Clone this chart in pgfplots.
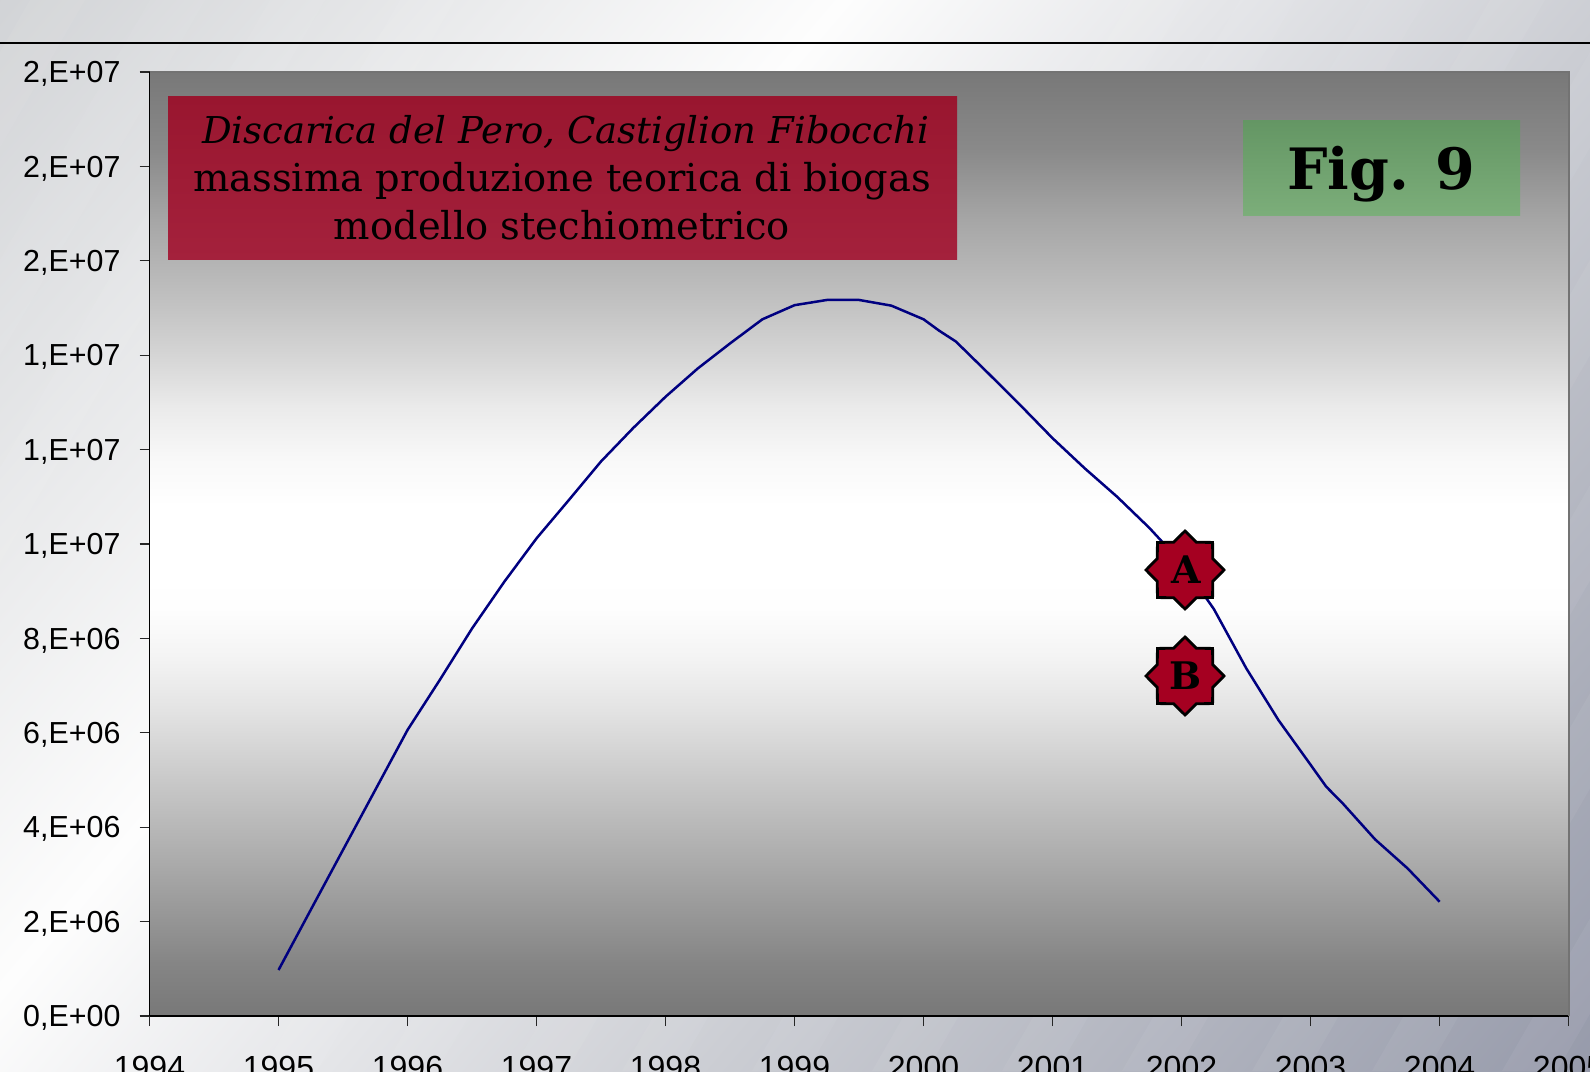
\documentclass[border=0pt]{standalone}
\usepackage{pgfplots}
\pgfplotsset{compat=1.18}
\usepackage{fontspec}
\setmainfont{Liberation Sans}
\newfontfamily\serifbox[ItalicFont={DejaVu Serif Italic}]{DejaVu Serif}
\usetikzlibrary{shapes.geometric}
\definecolor{navyline}{HTML}{000080}
\definecolor{starred}{HTML}{A50021}
\definecolor{bga}{HTML}{D1D3D6}
\definecolor{bgb}{HTML}{FDFDFD}
\definecolor{bgc}{HTML}{CBCDD3}
\definecolor{bgd}{HTML}{969AAA}
\definecolor{p00}{HTML}{787878}
\definecolor{p01}{HTML}{858585}
\definecolor{p02}{HTML}{989898}
\definecolor{p03}{HTML}{ABABAB}
\definecolor{p04}{HTML}{BDBDBD}
\definecolor{p05}{HTML}{D0D0D0}
\definecolor{p06}{HTML}{E3E3E3}
\definecolor{p07}{HTML}{F3F3F3}
\definecolor{p08}{HTML}{FEFEFE}
\definecolor{p09}{HTML}{FFFFFF}
\definecolor{p10}{HTML}{F8F8F8}
\definecolor{p11}{HTML}{EAEAEA}
\definecolor{p12}{HTML}{D5D5D5}
\definecolor{p13}{HTML}{C2C2C2}
\definecolor{p14}{HTML}{B5B5B5}
\definecolor{p15}{HTML}{A5A5A5}
\definecolor{p16}{HTML}{8A8A8A}
\definecolor{ra}{HTML}{A4213C}
\definecolor{rb}{HTML}{99162F}
\definecolor{ga}{HTML}{7CAE7A}
\definecolor{gb}{HTML}{649664}
\pgfdeclarehorizontalshading{bgdiag}{930bp}{
 color(0bp)=(bga);
 color(324bp)=(bgb);
 color(620bp)=(bgc);
 color(956bp)=(bgd)}
\pgfdeclareverticalshading{panel}{100bp}{
 color(0bp)=(p00);
 color(25bp)=(p00);
 color(27.8bp)=(p01);
 color(30.5bp)=(p02);
 color(33.2bp)=(p03);
 color(35.8bp)=(p04);
 color(38.5bp)=(p05);
 color(41.2bp)=(p06);
 color(43.9bp)=(p07);
 color(46.6bp)=(p08);
 color(48.7bp)=(p09);
 color(52bp)=(p09);
 color(54.6bp)=(p10);
 color(57.3bp)=(p11);
 color(60bp)=(p12);
 color(62.7bp)=(p13);
 color(64.8bp)=(p14);
 color(67.3bp)=(p15);
 color(70.8bp)=(p16);
 color(75bp)=(p00);
 color(100bp)=(p00)}
\pgfdeclareverticalshading{redbox}{100bp}{
 color(0bp)=(ra);
 color(25bp)=(ra);
 color(75bp)=(rb);
 color(100bp)=(rb)}
\pgfdeclareverticalshading{greenbox}{100bp}{
 color(0bp)=(ga);
 color(25bp)=(ga);
 color(75bp)=(gb);
 color(100bp)=(gb)}
\pgfplotstableread{
x y
1995.00 974000
1995.25 2250000
1995.50 3520000
1995.75 4790000
1996.00 6060000
1996.25 7120000
1996.50 8210000
1996.75 9200000
1997.00 10120000
1997.25 10930000
1997.50 11750000
1997.75 12460000
1998.00 13120000
1998.25 13720000
1998.50 14250000
1998.75 14760000
1999.00 15060000
1999.25 15170000
1999.50 15170000
1999.75 15050000
2000.00 14760000
2000.12 14520000
2000.25 14290000
2000.50 13620000
2000.75 12940000
2001.00 12240000
2001.25 11600000
2001.50 11000000
2001.75 10340000
2002.00 9600000
2002.25 8620000
2002.50 7370000
2002.75 6270000
2003.00 5320000
2003.12 4860000
2003.25 4500000
2003.50 3740000
2003.75 3130000
2004.00 2420000
}\curvedata
\begin{document}
\begin{tikzpicture}
\path[use as bounding box] (0pt,0pt) rectangle (795pt,535.5pt);
\clip (0pt,0pt) rectangle (795pt,535.5pt);
\begin{scope}[x=0.5pt,y=0.5pt]
\node[transform shape,rotate=-40.4,inner sep=0pt] at (795,535.5) {\pgfuseshading{bgdiag}};
\foreach \sx in {30,150,270,400,510,640,750,880,1000,1130,1240,1370,1490,1620,1740,1870,1990,2120}{
 \fill[white,opacity=0.05] (\sx,1071) -- (\sx+55,1071) -- (\sx+55-618,0) -- (\sx-618,0) -- cycle;
}
\draw[black,line width=0.8pt] (0,1028) -- (1590,1028);
\end{scope}
\begin{axis}[
 at={(74.75pt,27.5pt)},anchor=origin,
 scale only axis,width=709.6pt,height=472pt,
 xmin=1994,xmax=2005,ymin=0,ymax=20000000,
 axis x line=bottom,axis y line=left,
 axis line style={black,line width=0.7pt,-},
 tick style={black!85,line width=0.6pt},
 tick align=outside,
 major tick length=5pt,
 xtick={1994,...,2005},
 xticklabels={1994,1995,1996,1997,1998,1999,2000,2001,2002,2003,2004,2005},
 ytick={0,2000000,4000000,6000000,8000000,10000000,12000000,14000000,16000000,18000000,20000000},
 yticklabels={{0,E+00},{2,E+06},{4,E+06},{6,E+06},{8,E+06},{1,E+07},{1,E+07},{1,E+07},{2,E+07},{2,E+07},{2,E+07}},
 yticklabel style={font=\fontsize{15.2}{18}\selectfont,text=black,xshift=-6pt,yshift=-1pt},
 xticklabel style={font=\fontsize{16}{18}\selectfont,text=black,yshift=-11.5pt},
 scaled ticks=false,
 axis background/.style={shading=panel},
 clip=false,
]
\addplot[navyline,line width=1.25pt,no markers] table[x=x,y=y]{\curvedata};
\draw[gray!90!black,line width=1.2pt] (rel axis cs:0,1) -- (rel axis cs:1,1) -- (rel axis cs:1,0);
\end{axis}
\begin{scope}[x=0.5pt,y=0.5pt]
\shade[shading=redbox] (168,811) rectangle (957,974);
\node[align=center,inner sep=0pt,font=\serifbox\fontsize{19.2}{24}\selectfont,text=black] at (562,893)
 {\hspace*{3.6pt}\textit{\fontsize{18.5}{24}\selectfont Discarica del Pero, Castiglion Fibocchi}\\massima produzione teorica di biogas\\modello stechiometrico};
\shade[shading=greenbox] (1243,855) rectangle (1520,950);
\node[inner sep=0pt,font=\serifbox\bfseries\fontsize{28.5}{36}\selectfont,text=black] at (1381,897) {Fig. 9};
\foreach \yy/\tt in {501/A,395/B}{
 \node[star,star points=8,star point ratio=1.3,draw=black,fill=starred,line width=1.4pt,
   minimum size=39pt,inner sep=0pt,shape border rotate=0] at (1185,\yy) {};
 \node[font=\serifbox\bfseries\fontsize{19}{22}\selectfont,text=black] at (1186,\yy) {\tt};
}
\end{scope}
\end{tikzpicture}
\end{document}
